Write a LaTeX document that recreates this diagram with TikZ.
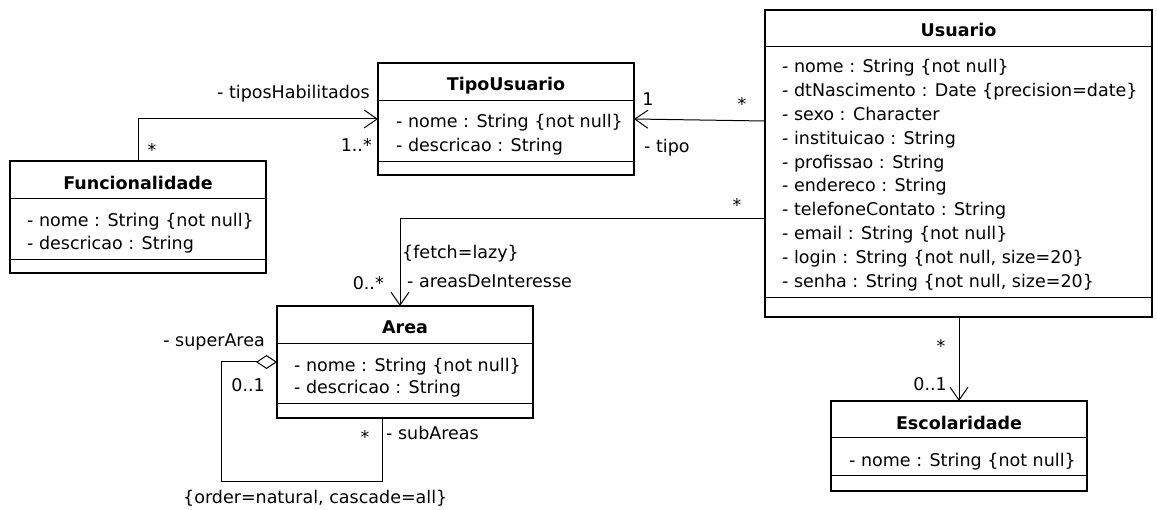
\documentclass[tikz,border=0pt]{standalone}
\usepackage{fontspec}
\setmainfont{DejaVu Sans}
\usetikzlibrary{arrows.meta}

\tikzset{
  classbox/.style={draw, line width=2.7pt, anchor=north west, outer sep=0pt, inner sep=0pt},
  sep/.style={line width=1pt},
  umltext/.style={font=\fontsize{17.5}{21}\selectfont, inner sep=0pt},
  title/.style={umltext, font=\fontsize{17.5}{21}\selectfont\bfseries, anchor=base},
  attr/.style={umltext, anchor=base west},
  assoc/.style={line width=1pt, -{Straight Barb[length=13pt,width=18pt]}},
  aggr/.style={line width=1pt, {Diamond[open,length=21pt,width=14pt]}-},
}

\begin{document}
\begin{tikzpicture}[x=1pt, y=-1pt]
        \useasboundingbox (0,0) rectangle (1157,510);

        % Funcionalidade
        \node[classbox, minimum width=256pt, minimum height=112pt] (func) at (10,161) {};
        \draw[sep] ([yshift=-38pt]func.north west) -- ([yshift=-38pt]func.north east);
        \draw[sep] ([yshift=-99pt]func.north west) -- ([yshift=-99pt]func.north east);
        \node[title] (functitle) at ([yshift=-29pt]func.north) {Funcionalidade};
        \node[attr] (func1) at ([xshift=17pt, yshift=-66pt]func.north west) {- nome : String \{not null\}};
        \node[attr] (func2) at ([xshift=17pt, yshift=-89pt]func.north west) {- descricao : String};

        % TipoUsuario
        \node[classbox, minimum width=256pt, minimum height=112pt] (tipo) at (378,63) {};
        \draw[sep] ([yshift=-38pt]tipo.north west) -- ([yshift=-38pt]tipo.north east);
        \draw[sep] ([yshift=-99pt]tipo.north west) -- ([yshift=-99pt]tipo.north east);
        \node[title] (tipotitle) at ([yshift=-28pt]tipo.north) {TipoUsuario};
        \node[attr] (tipo1) at ([xshift=18pt, yshift=-65pt]tipo.north west) {- nome : String \{not null\}};
        \node[attr] (tipo2) at ([xshift=18pt, yshift=-89pt]tipo.north west) {- descricao : String};

        % Area
        \node[classbox, minimum width=256pt, minimum height=112pt] (area) at (277,306) {};
        \draw[sep] ([yshift=-38pt]area.north west) -- ([yshift=-38pt]area.north east);
        \draw[sep] ([yshift=-98pt]area.north west) -- ([yshift=-98pt]area.north east);
        \node[title] (areatitle) at ([yshift=-28pt]area.north) {Area};
        \node[attr] (area1) at ([xshift=17pt, yshift=-66pt]area.north west) {- nome : String \{not null\}};
        \node[attr] (area2) at ([xshift=17pt, yshift=-88pt]area.north west) {- descricao : String};

        % Usuario
        \node[classbox, minimum width=387pt, minimum height=307pt] (usuario) at (765,10) {};
        \draw[sep] ([yshift=-37pt]usuario.north west) -- ([yshift=-37pt]usuario.north east);
        \draw[sep] ([yshift=-288pt]usuario.north west) -- ([yshift=-288pt]usuario.north east);
        \node[title] (usutitle) at ([yshift=-27pt]usuario.north) {Usuario};
        \node[attr] (usu1) at ([xshift=17pt, yshift=-63pt]usuario.north west) {- nome : String \{not null\}};
        \node[attr] (usu2) at ([xshift=17pt, yshift=-86.8pt]usuario.north west) {- dtNascimento : Date \{precision=date\}};
        \node[attr] (usu3) at ([xshift=17pt, yshift=-110.6pt]usuario.north west) {- sexo : Character};
        \node[attr] (usu4) at ([xshift=17pt, yshift=-134.4pt]usuario.north west) {- instituicao : String};
        \node[attr] (usu5) at ([xshift=17pt, yshift=-158.2pt]usuario.north west) {- profissao : String};
        \node[attr] (usu6) at ([xshift=17pt, yshift=-182pt]usuario.north west) {- endereco : String};
        \node[attr] (usu7) at ([xshift=17pt, yshift=-205.8pt]usuario.north west) {- telefoneContato : String};
        \node[attr] (usu8) at ([xshift=17pt, yshift=-229.6pt]usuario.north west) {- email : String \{not null\}};
        \node[attr] (usu9) at ([xshift=17pt, yshift=-253.4pt]usuario.north west) {- login : String \{not null, size=20\}};
        \node[attr] (usu10) at ([xshift=17pt, yshift=-277.2pt]usuario.north west) {- senha : String \{not null, size=20\}};

        % Escolaridade
        \node[classbox, minimum width=256pt, minimum height=90pt] (esc) at (831,401) {};
        \draw[sep] ([yshift=-37pt]esc.north west) -- ([yshift=-37pt]esc.north east);
        \draw[sep] ([yshift=-74pt]esc.north west) -- ([yshift=-74pt]esc.north east);
        \node[title] (esctitle) at ([yshift=-29pt]esc.north) {Escolaridade};
        \node[attr] (esc1) at ([xshift=18pt, yshift=-66pt]esc.north west) {- nome : String \{not null\}};

        % associations
        \draw[assoc] (func.north) |- (tipo.west);
        \draw[assoc] ([yshift=-2pt]usuario.west |- tipo.east) -- (tipo.east);
        \draw[assoc] ([yshift=-209pt]usuario.north west) -| ([xshift=-5pt]area.north);
        \draw[assoc] (usuario.south -| esc.north) -- (esc.north);
        \draw[aggr] (area.west) -| ++(-56,119) -| ([xshift=-23pt]area.south);

        % role names and multiplicities
        \node[umltext, anchor=base east] (habrole) at (370,99) {- tiposHabilitados};
        \node[umltext, anchor=base] (habmultf) at (152,157) {*};
        \node[umltext, anchor=base east] (habmultt) at (372,152) {1..*};
        \node[umltext, anchor=base] (tipomultt) at (648,106) {1};
        \node[umltext, anchor=base] (tipomultu) at (742,111) {*};
        \node[umltext, anchor=base west] (tiporole) at (644,153) {- tipo};
        \node[umltext, anchor=base] (intmultu) at (737,212) {*};
        \node[umltext, anchor=base west] (intfetch) at (402,259) {\{fetch=lazy\}};
        \node[umltext, anchor=base west] (introle) at (407,288) {- areasDeInteresse};
        \node[umltext, anchor=base east] (intmulta) at (384,290) {0..*};
        \node[umltext, anchor=base east] (suprole) at (265,347) {- superArea};
        \node[umltext, anchor=base east] (supmult) at (265,392) {0..1};
        \node[umltext, anchor=base] (submult) at (365,443) {*};
        \node[umltext, anchor=base west] (subrole) at (386,440) {- subAreas};
        \node[umltext, anchor=base west] (subconstr) at (183,503) {\{order=natural, cascade=all\}};
        \node[umltext, anchor=base] (escmultu) at (941,353) {*};
        \node[umltext, anchor=base east] (escmulte) at (947,391) {0..1};
\end{tikzpicture}
\end{document}
